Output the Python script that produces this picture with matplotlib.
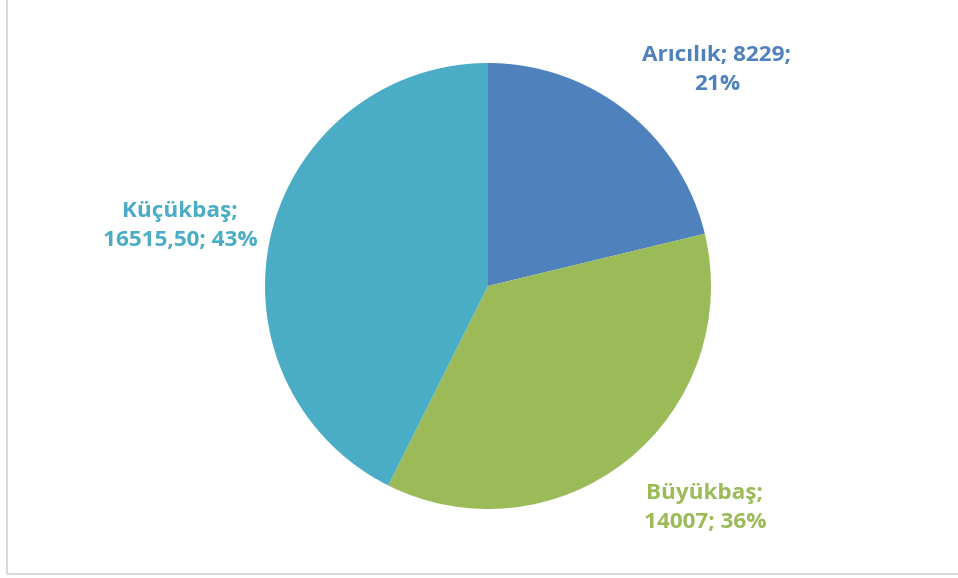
import matplotlib
matplotlib.use("Agg")
import matplotlib.pyplot as plt
from matplotlib.patches import Rectangle

# veriler
etiketler = ["Arıcılık", "Büyükbaş", "Küçükbaş"]
degerler = [8229, 14007, 16515.50]
deger_yazilari = ["8229", "14007", "16515,50"]
renkler = ["#4F81BD", "#9BBB59", "#4BACC6"]

W, H = 958, 578
fig = plt.figure(figsize=(W / 100, H / 100), dpi=100, facecolor="white")
ax = fig.add_axes([0, 0, 1, 1])

merkez = (488, H - 286)
yaricap = 223
ax.pie(degerler, colors=renkler, startangle=90, counterclock=False,
       center=merkez, radius=yaricap, frame=True,
       wedgeprops=dict(linewidth=0))
ax.set_xlim(0, W)
ax.set_ylim(0, H)
ax.set_aspect("equal")
ax.axis("off")

# grafik çerçevesi
ax.add_patch(Rectangle((7.5, H - 573.5), W + 10, 700, fill=False,
                       edgecolor="#D9D9D9", linewidth=1.5))

toplam = sum(degerler)
yuzde = [round(d / toplam * 100) for d in degerler]

# etiket yerleri (piksel)
konumlar = [(717, 70), (705, 508), (180, 226)]
metinler = [
    f"{etiketler[0]}; {deger_yazilari[0]};\n{yuzde[0]}%",
    f"{etiketler[1]};\n{deger_yazilari[1]}; {yuzde[1]}%",
    f"{etiketler[2]};\n{deger_yazilari[2]}; {yuzde[2]}%",
]
for (x, y), t, r in zip(konumlar, metinler, renkler):
    ax.text(x, H - y, t, ha="center", va="center", color=r,
            fontsize=16.2, fontweight="bold", family=["Open Sans", "DejaVu Sans"],
            linespacing=1.47)

fig.savefig("out.png", dpi=100, facecolor="white")
